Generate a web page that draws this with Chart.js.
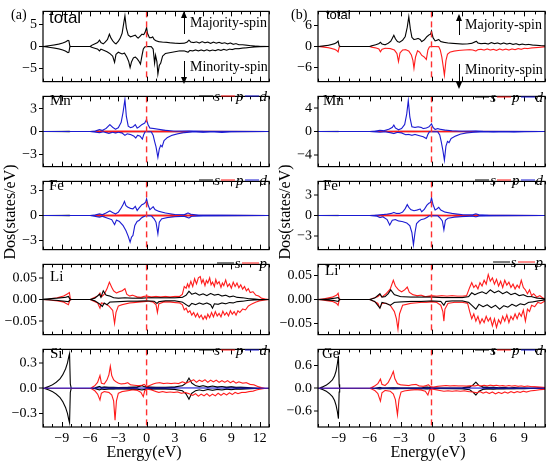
<!DOCTYPE html>
<html><head><meta charset="utf-8">
<script src="https://cdn.jsdelivr.net/npm/chart.js@4/dist/chart.umd.min.js"></script>
<style>
body{margin:0;width:550px;height:462px;background:#fff;position:relative;overflow:hidden;font-family:'Liberation Serif','Times New Roman',serif;color:#000;}
canvas{position:absolute;}
.t{position:absolute;white-space:nowrap;line-height:1;transform:translateY(-50%);}
.sans{font-family:'Liberation Sans',Arial,sans-serif;}
.lg{position:absolute;display:flex;align-items:center;font-style:italic;font-size:15px;line-height:1;transform:translateY(-50%);white-space:nowrap;}
.ln{display:inline-block;width:14px;height:1.5px;margin:0 1px;}
.up,.dn{position:absolute;width:0;border-left:1.3px solid #000;}
.up::before{content:'';position:absolute;left:-4px;top:-2px;border-left:3.3px solid transparent;border-right:3.3px solid transparent;border-bottom:7px solid #000;}
.dn::after{content:'';position:absolute;left:-4px;bottom:-2px;border-left:3.3px solid transparent;border-right:3.3px solid transparent;border-top:7px solid #000;}
.ytl{position:absolute;font-size:16px;white-space:nowrap;line-height:1;transform:translate(-50%,-50%) rotate(-90deg);}
</style></head><body>
<script>
// ---------------- DATA (energy eV, DOS) ----------------
const xTicksA = [-9,-6,-3,0,3,6,9,12];
const xTicksB = [-9,-6,-3,0,3,6,9];
const xLabelsA = ['\u22129','\u22126','\u22123','0','3','6','9','12'];
const xLabelsB = ['\u22129','\u22126','\u22123','0','3','6','9'];

const yTicksTotA = [-5,0,5],  yLabelsTotA = ['\u22125','0','5'];
const yTicksMnA  = [-3,0,3],  yLabelsMnA  = ['\u22123','0','3'];
const yTicksFeA  = [-3,0,3],  yLabelsFeA  = ['\u22123','0','3'];
const yTicksLi   = [-0.05,0,0.05], yLabelsLi = ['\u22120.05','0.00','0.05'];
const yTicksSi   = [-0.3,0,0.3], yLabelsSi = ['\u22120.3','0.0','0.3'];
const yTicksTotB = [-6,0,6],  yLabelsTotB = ['\u22126','0','6'];
const yTicksMnB  = [-4,0,4],  yLabelsMnB  = ['\u22124','0','4'];
const yTicksFeB  = [-3,0,3],  yLabelsFeB  = ['\u22123','0','3'];
const yTicksGe   = [-0.6,0,0.6], yLabelsGe = ['\u22120.6','0.0','0.6'];

// (a) total
const aTotUp = [[-11,0],[-10.8,0.05],[-10.3,0.2],[-9.8,0.35],[-9.3,0.55],[-8.9,0.8],[-8.6,1.05],[-8.35,1.4],[-8.25,1.3],[-8.15,0.1],[-8.05,0],[-6,0],[-5.8,0.3],[-5.5,0.6],[-5.2,0.9],[-5.0,1.45],[-4.85,0.9],[-4.6,0.6],[-4.4,1.0],[-4.15,1.6],[-3.95,2.8],[-3.8,2.0],[-3.6,1.3],[-3.4,0.8],[-3.25,0.6],[-3.0,1.2],[-2.8,1.9],[-2.6,3.0],[-2.45,5.0],[-2.3,7.0],[-2.15,4.2],[-1.95,2.6],[-1.7,2.2],[-1.45,2.4],[-1.2,2.6],[-1.05,2.2],[-0.9,1.9],[-0.7,2.3],[-0.5,2.8],[-0.3,2.7],[-0.15,3.3],[0.0,4.3],[0.1,3.0],[0.3,2.0],[0.5,2.0],[0.65,2.2],[0.8,1.6],[1.0,1.3],[1.3,1.1],[1.7,1.0],[2.1,0.95],[2.5,0.85],[3.0,0.75],[3.5,0.7],[4.0,0.75],[4.3,1.0],[4.5,1.45],[4.7,1.0],[5.0,0.9],[5.3,1.05],[5.6,0.8],[5.9,1.1],[6.2,0.85],[6.5,1.0],[6.8,0.7],[7.1,1.0],[7.4,0.75],[7.7,0.95],[8.0,0.7],[8.3,0.85],[8.6,0.6],[8.9,0.8],[9.2,0.5],[9.5,0.65],[9.8,0.4],[10.2,0.4],[10.6,0.3],[11.0,0.2],[11.5,0.1],[12.0,0.05],[13,0]];
const aTotDn = [[-11,0],[-10.8,-0.05],[-10.3,-0.2],[-9.8,-0.35],[-9.3,-0.55],[-8.9,-0.8],[-8.6,-1.05],[-8.35,-1.4],[-8.25,-1.3],[-8.15,-0.1],[-8.05,0],[-6,0],[-5.8,-0.2],[-5.5,-0.4],[-5.2,-0.6],[-5.0,-1.0],[-4.85,-0.6],[-4.5,-0.9],[-4.2,-1.2],[-3.9,-1.6],[-3.6,-2.2],[-3.4,-3.6],[-3.25,-1.8],[-3.0,-1.3],[-2.8,-1.5],[-2.6,-1.7],[-2.35,-1.5],[-2.1,-2.4],[-1.9,-3.4],[-1.75,-4.8],[-1.6,-3.5],[-1.4,-2.6],[-1.2,-2.4],[-1.0,-2.8],[-0.8,-3.4],[-0.65,-4.0],[-0.5,-2.2],[-0.35,-0.6],[-0.2,-0.1],[0.0,0],[0.5,-0.05],[0.7,-0.6],[0.85,-3.8],[0.95,-2.0],[1.1,-3.5],[1.2,-6.3],[1.35,-4.3],[1.5,-3.8],[1.7,-2.2],[2.0,-1.6],[2.5,-1.4],[3.0,-1.2],[3.5,-1.0],[4.0,-1.0],[4.4,-1.3],[4.6,-0.9],[4.9,-1.0],[5.2,-0.8],[5.5,-1.0],[5.8,-0.8],[6.1,-1.0],[6.4,-0.75],[6.7,-1.0],[7.0,-0.8],[7.3,-0.95],[7.6,-0.7],[7.9,-0.9],[8.2,-0.65],[8.5,-0.85],[8.8,-0.6],[9.1,-0.7],[9.4,-0.5],[9.8,-0.5],[10.2,-0.35],[10.6,-0.3],[11.0,-0.2],[11.5,-0.1],[12.0,-0.04],[13,0]];

// (a) Mn
const aMnSUp = [[-11,0],[-9,0.01],[-8.2,0.02],[-8.1,0],[-6,0],[-5,0.02],[-2.3,0.03],[0,0.02],[4.5,0.02],[13,0]];
const aMnSDn = [[-11,0],[-9,-0.01],[-8.2,-0.02],[-8.1,0],[-6,0],[-5,-0.02],[-2.3,-0.02],[1.2,-0.02],[4.5,-0.02],[13,0]];
const aMnPUp = [[-11,0],[-6,0],[-5,0.02],[-3.9,0.04],[-2.3,0.06],[-1,0.04],[0,0.05],[1,0.02],[4.5,0.02],[13,0]];
const aMnPDn = [[-11,0],[-6,0],[-5,-0.02],[-3.3,-0.04],[-1,-0.03],[0,-0.01],[1.2,-0.05],[4.5,-0.02],[13,0]];
const aMnDUp = [[-11,0],[-6,0],[-5.5,0.05],[-5.0,0.25],[-4.7,0.15],[-4.3,0.4],[-3.9,0.9],[-3.6,0.55],[-3.3,0.3],[-3.0,0.5],[-2.7,1.2],[-2.5,2.5],[-2.3,4.2],[-2.15,2.0],[-1.95,0.7],[-1.7,0.5],[-1.45,0.6],[-1.2,0.9],[-1.0,0.45],[-0.8,0.6],[-0.5,0.9],[-0.2,1.1],[0.0,1.6],[0.15,0.9],[0.35,0.45],[0.7,0.4],[1.2,0.3],[2.0,0.15],[3.0,0.05],[4.5,0.08],[6,0.03],[13,0]];
const aMnDDn = [[-11,0],[-6,0],[-5.0,-0.15],[-4.6,-0.05],[-4.0,-0.25],[-3.6,-0.1],[-3.3,-0.2],[-3.0,-0.1],[-2.6,-0.2],[-2.3,-0.5],[-2.05,-0.3],[-1.7,-0.4],[-1.35,-0.6],[-1.15,-0.85],[-0.95,-0.5],[-0.7,-0.6],[-0.45,-1.0],[-0.3,-0.4],[-0.15,-0.05],[0.5,-0.05],[0.7,-0.5],[0.85,-1.3],[1.0,-2.0],[1.2,-3.4],[1.35,-2.3],[1.5,-1.8],[1.65,-2.0],[1.85,-1.2],[2.2,-0.8],[2.7,-0.5],[3.3,-0.3],[4.0,-0.15],[5.0,-0.05],[6.0,-0.1],[7.0,-0.05],[8.0,-0.12],[9,-0.05],[10,-0.03],[13,0]];

// (a) Fe
const aFeSUp = [[-11,0],[-9,0.01],[-8.2,0.02],[-8.1,0],[-6,0],[-5,0.02],[-2.3,0.03],[0,0.02],[4.5,0.02],[13,0]];
const aFeSDn = [[-11,0],[-9,-0.01],[-8.2,-0.02],[-8.1,0],[-6,0],[-5,-0.02],[-1.7,-0.02],[1.2,-0.02],[4.5,-0.02],[13,0]];
const aFePUp = [[-11,0],[-6,0],[-5,0.03],[-3.9,0.04],[-2.3,0.07],[-1,0.05],[0,0.06],[1,0.03],[4.5,0.03],[13,0]];
const aFePDn = [[-11,0],[-6,0],[-5,-0.03],[-3.3,-0.05],[-1.7,-0.05],[0,-0.01],[1.2,-0.05],[4.5,-0.03],[13,0]];
const aFeDUp = [[-11,0],[-6,0],[-5.5,0.05],[-5.0,0.2],[-4.7,0.1],[-4.3,0.3],[-3.9,0.55],[-3.6,0.35],[-3.3,0.2],[-3.0,0.4],[-2.7,0.9],[-2.5,1.3],[-2.35,1.7],[-2.2,1.2],[-2.0,1.0],[-1.7,0.85],[-1.45,0.8],[-1.2,1.1],[-1.0,0.6],[-0.8,0.9],[-0.5,1.3],[-0.3,1.4],[-0.1,1.6],[0.0,2.0],[0.15,1.3],[0.35,0.7],[0.55,0.9],[0.7,1.05],[0.9,0.7],[1.3,0.5],[2.0,0.3],[3.0,0.12],[4.0,0.1],[4.4,0.3],[4.7,0.15],[5.5,0.05],[8,0.04],[13,0]];
const aFeDDn = [[-11,0],[-6,0],[-5.0,-0.2],[-4.7,-0.1],[-4.2,-0.3],[-3.7,-0.5],[-3.4,-1.1],[-3.2,-0.55],[-2.9,-0.7],[-2.5,-1.2],[-2.2,-1.8],[-1.95,-2.5],[-1.75,-3.2],[-1.6,-2.6],[-1.45,-2.4],[-1.25,-1.2],[-1.0,-0.7],[-0.8,-0.6],[-0.55,-0.3],[-0.4,-0.2],[-0.1,-0.05],[0.5,-0.05],[0.8,-0.4],[1.0,-0.8],[1.2,-2.2],[1.35,-0.8],[1.6,-0.4],[2.2,-0.25],[3.0,-0.15],[4.0,-0.1],[4.5,-0.3],[4.8,-0.1],[6,-0.05],[13,0]];

// (a) Li
const aLiSUp = [[-11,0],[-10.8,0.001],[-9.5,0.003],[-8.6,0.005],[-8.3,0.007],[-8.15,0.001],[-8,0],[-6,0],[-5.5,0.003],[-5.0,0.012],[-4.85,0.005],[-4.6,0.02],[-4.3,0.01],[-3.9,0.008],[-3.5,0.004],[-3.0,0.003],[-2.3,0.004],[-1.5,0.003],[-0.5,0.003],[0.0,0.004],[1.0,0.004],[2.0,0.004],[3.0,0.004],[3.8,0.005],[4.2,0.01],[4.5,0.019],[4.8,0.012],[5.2,0.015],[5.6,0.01],[6.0,0.013],[6.4,0.009],[6.8,0.014],[7.2,0.01],[7.6,0.012],[8.0,0.008],[8.4,0.01],[8.8,0.006],[9.2,0.008],[9.6,0.005],[10.2,0.004],[10.8,0.002],[11.5,0.001],[12,0],[13,0]];
const aLiSDn = [[-11,0],[-9.5,-0.002],[-8.3,-0.005],[-8.15,-0.001],[-8,0],[-6,0],[-5.5,-0.003],[-5.0,-0.01],[-4.7,-0.016],[-4.5,-0.008],[-4.2,-0.012],[-3.9,-0.006],[-3.0,-0.005],[-2.0,-0.004],[-1.0,-0.004],[0.0,-0.003],[0.8,-0.004],[1.1,-0.009],[1.3,-0.005],[2.0,-0.003],[3.0,-0.003],[3.8,-0.006],[4.2,-0.012],[4.5,-0.016],[4.8,-0.009],[5.2,-0.012],[5.6,-0.008],[6.0,-0.011],[6.4,-0.008],[6.8,-0.012],[7.0,-0.02],[7.2,-0.01],[7.6,-0.011],[8.0,-0.008],[8.4,-0.01],[8.8,-0.007],[9.2,-0.008],[9.6,-0.005],[10.2,-0.004],[10.8,-0.002],[11.5,-0.001],[13,0]];
const aLiPUp = [[-11,0],[-10.5,0.001],[-9.5,0.004],[-8.8,0.008],[-8.4,0.013],[-8.2,0.016],[-8.1,0.002],[-8,0],[-6,0],[-5.6,0.004],[-5.2,0.008],[-4.95,0.015],[-4.8,0.006],[-4.5,0.012],[-4.2,0.025],[-3.95,0.04],[-3.7,0.028],[-3.5,0.02],[-3.2,0.015],[-2.9,0.018],[-2.6,0.02],[-2.3,0.025],[-2.1,0.012],[-1.8,0.008],[-1.5,0.01],[-1.0,0.006],[-0.6,0.005],[-0.3,0.007],[0.0,0.008],[0.5,0.006],[1.0,0.007],[1.5,0.006],[2.0,0.007],[2.5,0.006],[3.0,0.007],[3.5,0.007],[3.8,0.012],[4.0,0.03],[4.2,0.026],[4.35,0.036],[4.5,0.028],[4.7,0.042],[4.9,0.03],[5.1,0.048],[5.3,0.036],[5.5,0.05],[5.7,0.053],[5.85,0.038],[6.0,0.046],[6.2,0.032],[6.35,0.044],[6.5,0.038],[6.7,0.05],[6.85,0.034],[7.0,0.04],[7.2,0.03],[7.35,0.046],[7.5,0.036],[7.7,0.041],[7.9,0.028],[8.05,0.038],[8.2,0.032],[8.4,0.045],[8.6,0.03],[8.8,0.036],[9.0,0.026],[9.2,0.04],[9.4,0.03],[9.6,0.038],[9.8,0.027],[10.0,0.034],[10.2,0.024],[10.4,0.03],[10.6,0.02],[10.8,0.025],[11.0,0.016],[11.3,0.018],[11.6,0.01],[11.9,0.008],[12.2,0.003],[12.6,0.001],[13,0]];
const aLiPDn = [[-11,0],[-9.5,-0.003],[-8.8,-0.006],[-8.3,-0.012],[-8.15,-0.002],[-8,0],[-6,0],[-5.6,-0.004],[-5.2,-0.008],[-4.95,-0.02],[-4.8,-0.008],[-4.4,-0.01],[-4.0,-0.015],[-3.6,-0.025],[-3.4,-0.055],[-3.25,-0.03],[-3.0,-0.015],[-2.6,-0.012],[-2.2,-0.01],[-1.8,-0.008],[-1.3,-0.007],[-0.8,-0.006],[-0.3,-0.005],[0.2,-0.004],[0.7,-0.006],[1.0,-0.012],[1.15,-0.03],[1.3,-0.01],[1.8,-0.006],[2.5,-0.006],[3.0,-0.007],[3.5,-0.008],[3.8,-0.012],[4.0,-0.024],[4.2,-0.02],[4.4,-0.03],[4.6,-0.026],[4.8,-0.036],[5.0,-0.03],[5.2,-0.04],[5.4,-0.032],[5.6,-0.042],[5.8,-0.036],[6.0,-0.046],[6.2,-0.038],[6.35,-0.045],[6.5,-0.034],[6.7,-0.042],[6.9,-0.03],[7.1,-0.04],[7.3,-0.028],[7.5,-0.038],[7.7,-0.032],[7.9,-0.04],[8.1,-0.027],[8.3,-0.036],[8.5,-0.03],[8.7,-0.038],[8.9,-0.026],[9.1,-0.034],[9.3,-0.028],[9.5,-0.036],[9.7,-0.026],[9.9,-0.03],[10.2,-0.022],[10.5,-0.024],[10.8,-0.015],[11.2,-0.01],[11.6,-0.006],[12.0,-0.003],[13,0]];

// (a) Si
const aSiSUp = [[-11,0],[-10.8,0.005],[-10.4,0.02],[-10.0,0.04],[-9.6,0.07],[-9.2,0.11],[-8.9,0.16],[-8.6,0.23],[-8.4,0.3],[-8.25,0.38],[-8.18,0.41],[-8.1,0.05],[-8.0,0],[-6,0],[-5.5,0.005],[-5.0,0.02],[-4.8,0.01],[-4.5,0.015],[-4.0,0.01],[-3.5,0.01],[-3.0,0.008],[-2.0,0.01],[-1.0,0.015],[-0.5,0.03],[-0.3,0.02],[0,0.015],[1,0.01],[2,0.01],[3,0.015],[3.8,0.03],[4.2,0.06],[4.5,0.12],[4.8,0.06],[5.2,0.03],[5.6,0.02],[6.0,0.03],[6.5,0.015],[7,0.025],[7.5,0.015],[8,0.02],[8.5,0.012],[9,0.018],[9.5,0.01],[10,0.012],[11,0.006],[12,0.002],[13,0]];
const aSiSDn = [[-11,0],[-10.8,-0.005],[-10.4,-0.02],[-10.0,-0.04],[-9.6,-0.07],[-9.2,-0.11],[-8.9,-0.16],[-8.6,-0.23],[-8.4,-0.3],[-8.25,-0.38],[-8.18,-0.41],[-8.1,-0.05],[-8.0,0],[-6,0],[-5.5,-0.005],[-5.0,-0.02],[-4.8,-0.01],[-4.5,-0.015],[-4.0,-0.01],[-3.5,-0.01],[-3.0,-0.008],[-2.0,-0.01],[-1.0,-0.012],[-0.5,-0.02],[0,-0.01],[1,-0.01],[2,-0.01],[3,-0.015],[3.8,-0.03],[4.2,-0.07],[4.5,-0.13],[4.8,-0.06],[5.2,-0.03],[5.6,-0.02],[6.0,-0.03],[6.5,-0.015],[7,-0.025],[7.5,-0.015],[8,-0.02],[8.5,-0.012],[9,-0.018],[9.5,-0.01],[10,-0.012],[11,-0.006],[12,-0.002],[13,0]];
const aSiPUp = [[-11,0],[-6,0],[-5.8,0.01],[-5.5,0.03],[-5.2,0.07],[-4.95,0.15],[-4.8,0.06],[-4.5,0.05],[-4.2,0.1],[-4.0,0.16],[-3.85,0.26],[-3.7,0.15],[-3.5,0.1],[-3.3,0.08],[-3.0,0.06],[-2.7,0.05],[-2.3,0.055],[-2.0,0.065],[-1.7,0.04],[-1.3,0.035],[-0.9,0.03],[-0.5,0.035],[-0.25,0.045],[0.0,0.02],[0.3,0.03],[0.7,0.05],[1.0,0.06],[1.4,0.065],[1.8,0.055],[2.2,0.06],[2.6,0.055],[3.0,0.06],[3.4,0.055],[3.8,0.075],[4.2,0.06],[4.6,0.08],[5.0,0.1],[5.3,0.07],[5.6,0.095],[5.9,0.08],[6.2,0.1],[6.5,0.07],[6.8,0.095],[7.1,0.075],[7.4,0.095],[7.7,0.07],[8.0,0.09],[8.3,0.07],[8.6,0.09],[8.9,0.065],[9.2,0.085],[9.5,0.06],[9.8,0.075],[10.2,0.06],[10.6,0.065],[11.0,0.045],[11.4,0.04],[11.8,0.02],[12.2,0.008],[12.6,0.002],[13,0]];
const aSiPDn = [[-11,0],[-6,0],[-5.8,-0.01],[-5.5,-0.03],[-5.2,-0.07],[-4.95,-0.14],[-4.8,-0.06],[-4.5,-0.04],[-4.0,-0.05],[-3.7,-0.08],[-3.5,-0.15],[-3.35,-0.38],[-3.2,-0.15],[-3.0,-0.06],[-2.6,-0.04],[-2.0,-0.03],[-1.5,-0.02],[-1.0,-0.025],[-0.6,-0.05],[-0.35,-0.1],[-0.2,-0.03],[0.0,-0.01],[0.5,-0.02],[1.0,-0.04],[1.3,-0.05],[1.7,-0.04],[2.1,-0.05],[2.5,-0.045],[2.9,-0.05],[3.3,-0.045],[3.7,-0.06],[4.1,-0.05],[4.5,-0.065],[4.9,-0.085],[5.2,-0.065],[5.5,-0.095],[5.8,-0.07],[6.1,-0.09],[6.4,-0.065],[6.7,-0.095],[7.0,-0.07],[7.3,-0.09],[7.6,-0.06],[7.9,-0.085],[8.2,-0.06],[8.5,-0.08],[8.8,-0.055],[9.1,-0.075],[9.4,-0.05],[9.7,-0.065],[10.1,-0.05],[10.5,-0.05],[10.9,-0.04],[11.3,-0.035],[11.7,-0.02],[12.1,-0.01],[12.5,-0.003],[13,0]];
const aSiD = [[-11,0],[-5,0.002],[0,0.002],[4.5,0.003],[13,0]];

// (b) total
const bTotUp = [[-11,0],[-10.8,0.05],[-10.4,0.2],[-10.0,0.35],[-9.7,0.55],[-9.4,0.8],[-9.2,1.1],[-9.05,1.55],[-8.95,0.2],[-8.85,0],[-6,0],[-5.8,0.2],[-5.4,0.5],[-5.1,0.8],[-4.95,1.2],[-4.8,0.7],[-4.5,0.5],[-4.2,0.9],[-3.95,1.5],[-3.8,2.3],[-3.65,3.2],[-3.5,2.2],[-3.3,1.4],[-3.1,1.2],[-2.8,1.8],[-2.55,2.8],[-2.35,5.5],[-2.2,8.5],[-2.05,5.0],[-1.9,2.6],[-1.7,2.0],[-1.5,2.1],[-1.3,2.3],[-1.1,2.0],[-0.95,1.4],[-0.7,1.9],[-0.45,2.8],[-0.25,3.3],[-0.1,3.5],[0.0,4.4],[0.15,2.5],[0.35,1.6],[0.55,1.8],[0.7,2.0],[0.9,1.4],[1.2,1.2],[1.6,1.0],[2.0,0.9],[2.5,0.8],[3.0,0.7],[3.5,0.75],[3.9,0.9],[4.2,1.3],[4.35,1.5],[4.5,1.0],[4.8,0.8],[5.2,0.9],[5.5,0.7],[5.8,1.1],[6.1,0.8],[6.4,1.0],[6.7,0.7],[7.0,1.0],[7.3,0.7],[7.6,0.9],[7.9,0.6],[8.2,0.8],[8.5,0.5],[8.8,0.7],[9.1,0.5],[9.4,0.6],[9.8,0.4],[10.2,0.35],[10.6,0.25],[11,0.2]];
const bTotDn = [[-11,0],[-10.8,-0.05],[-10.4,-0.2],[-10.0,-0.35],[-9.7,-0.55],[-9.4,-0.8],[-9.2,-1.1],[-9.05,-1.55],[-8.95,-0.2],[-8.85,0],[-6,0],[-5.8,-0.2],[-5.4,-0.4],[-5.1,-0.7],[-4.95,-1.5],[-4.8,-0.8],[-4.5,-0.5],[-4.0,-0.6],[-3.6,-1.0],[-3.35,-2.0],[-3.2,-4.3],[-3.05,-1.8],[-2.8,-1.0],[-2.5,-0.9],[-2.2,-1.3],[-1.95,-2.4],[-1.8,-4.0],[-1.7,-6.2],[-1.55,-3.0],[-1.35,-1.2],[-1.15,-1.6],[-0.95,-2.5],[-0.7,-3.0],[-0.5,-3.7],[-0.35,-1.0],[-0.2,-0.1],[0.0,0],[0.7,-0.05],[0.85,-1.0],[1.0,-3.0],[1.15,-6.0],[1.25,-8.2],[1.4,-4.0],[1.55,-2.2],[1.8,-1.6],[2.2,-1.3],[2.7,-1.1],[3.2,-1.0],[3.7,-0.9],[4.0,-1.0],[4.3,-1.3],[4.5,-0.9],[4.8,-0.8],[5.1,-1.0],[5.4,-0.7],[5.7,-1.0],[6.0,-0.8],[6.3,-1.1],[6.6,-0.7],[6.9,-1.0],[7.2,-0.75],[7.5,-1.0],[7.8,-0.7],[8.1,-0.9],[8.4,-0.6],[8.7,-0.8],[9.0,-0.5],[9.3,-0.6],[9.7,-0.4],[10.2,-0.3],[10.6,-0.2],[11,-0.1]];

// (b) Mn
const bMnSUp = [[-11,0],[-9.05,0.02],[-8.95,0],[-6,0],[-5,0.02],[-2.2,0.03],[0,0.02],[4.3,0.02],[11,0]];
const bMnSDn = [[-11,0],[-9.05,-0.02],[-8.95,0],[-6,0],[-5,-0.02],[-1.7,-0.02],[1.2,-0.02],[4.3,-0.02],[11,0]];
const bMnPUp = [[-11,0],[-6,0],[-5,0.02],[-3.7,0.04],[-2.2,0.06],[-1,0.04],[0,0.05],[1,0.02],[4.3,0.02],[11,0]];
const bMnPDn = [[-11,0],[-6,0],[-5,-0.02],[-3.2,-0.04],[-1.7,-0.05],[0,-0.01],[1.2,-0.05],[4.3,-0.02],[11,0]];
const bMnDUp = [[-11,0],[-6,0],[-5.5,0.05],[-5.0,0.2],[-4.6,0.15],[-4.1,0.4],[-3.8,0.7],[-3.65,1.1],[-3.5,0.6],[-3.2,0.3],[-2.9,0.5],[-2.6,1.2],[-2.4,3.0],[-2.25,5.3],[-2.1,2.5],[-1.9,0.8],[-1.6,0.7],[-1.3,0.8],[-1.0,0.7],[-0.8,0.5],[-0.5,0.6],[-0.25,0.8],[0.0,1.3],[0.15,0.7],[0.35,0.35],[0.6,0.5],[0.8,0.4],[1.3,0.25],[2.0,0.12],[3.0,0.05],[4.3,0.1],[5,0.04],[11,0]];
const bMnDDn = [[-11,0],[-6,0],[-5.0,-0.12],[-4.5,-0.05],[-4.0,-0.2],[-3.65,-0.35],[-3.3,-0.15],[-2.9,-0.25],[-2.5,-0.55],[-2.2,-0.5],[-1.9,-0.65],[-1.6,-0.5],[-1.2,-0.7],[-0.8,-0.9],[-0.5,-1.2],[-0.35,-0.5],[-0.2,-0.05],[0.6,-0.05],[0.8,-0.6],[0.95,-1.8],[1.1,-3.2],[1.25,-4.9],[1.4,-2.5],[1.55,-1.7],[1.7,-1.9],[1.9,-1.2],[2.3,-0.8],[2.8,-0.45],[3.4,-0.25],[4.0,-0.15],[5.0,-0.05],[6.0,-0.1],[7,-0.05],[8,-0.1],[9,-0.04],[11,0]];

// (b) Fe
const bFeSUp = [[-11,0],[-9.05,0.02],[-8.95,0],[-6,0],[-5,0.02],[-2.2,0.03],[0,0.02],[4.3,0.02],[11,0]];
const bFeSDn = [[-11,0],[-9.05,-0.02],[-8.95,0],[-6,0],[-5,-0.02],[-1.7,-0.02],[1.2,-0.02],[4.3,-0.02],[11,0]];
const bFePUp = [[-11,0],[-6,0],[-5,0.03],[-3.7,0.04],[-2.2,0.07],[-1,0.05],[0,0.06],[1,0.03],[4.3,0.03],[11,0]];
const bFePDn = [[-11,0],[-6,0],[-5,-0.03],[-3.2,-0.05],[-1.7,-0.05],[0,-0.01],[1.2,-0.05],[4.3,-0.03],[11,0]];
const bFeDUp = [[-11,0],[-6,0],[-5.5,0.03],[-5.0,0.1],[-4.6,0.15],[-4.3,0.2],[-3.9,0.3],[-3.65,0.45],[-3.4,0.3],[-3.1,0.3],[-2.8,0.5],[-2.55,1.0],[-2.35,1.6],[-2.2,1.2],[-2.0,0.85],[-1.7,0.7],[-1.4,0.8],[-1.1,0.95],[-0.95,0.55],[-0.7,0.9],[-0.45,1.5],[-0.25,1.8],[-0.1,1.9],[0.0,2.6],[0.15,1.6],[0.35,0.8],[0.55,1.0],[0.7,1.2],[0.9,0.8],[1.3,0.5],[2.0,0.3],[3.0,0.12],[4.0,0.1],[4.3,0.25],[4.6,0.1],[5.5,0.05],[11,0]];
const bFeDDn = [[-11,0],[-6,0],[-5.3,-0.1],[-5.0,-0.3],[-4.7,-0.2],[-4.3,-0.6],[-4.05,-1.4],[-3.8,-0.7],[-3.5,-0.6],[-3.2,-0.8],[-2.8,-0.9],[-2.4,-1.1],[-2.1,-1.5],[-1.9,-2.5],[-1.75,-4.3],[-1.6,-2.5],[-1.45,-1.2],[-1.2,-0.8],[-1.0,-0.6],[-0.7,-0.5],[-0.45,-0.3],[-0.2,-0.05],[0.6,-0.05],[0.85,-0.4],[1.05,-0.8],[1.2,-2.1],[1.35,-0.7],[1.6,-0.4],[2.2,-0.25],[3.0,-0.15],[4.0,-0.1],[4.3,-0.2],[4.6,-0.08],[6,-0.04],[11,0]];

// (b) Li
const bLiSUp = [[-11,0],[-10,0.001],[-9.3,0.003],[-9.05,0.004],[-8.95,0.001],[-8.85,0],[-6,0],[-5.5,0.003],[-5.0,0.012],[-4.8,0.005],[-4.5,0.006],[-4.2,0.012],[-3.95,0.02],[-3.6,0.01],[-3.0,0.006],[-2.0,0.005],[-1.0,0.005],[0.0,0.005],[1.0,0.004],[2.0,0.004],[3.0,0.004],[3.6,0.006],[3.9,0.014],[4.2,0.01],[4.5,0.013],[4.9,0.016],[5.3,0.012],[5.7,0.02],[6.1,0.014],[6.5,0.018],[6.9,0.012],[7.3,0.016],[7.7,0.01],[8.1,0.013],[8.5,0.008],[8.9,0.01],[9.3,0.006],[9.7,0.006],[10.2,0.003],[10.7,0.002],[11,0.001]];
const bLiSDn = [[-11,0],[-9.5,-0.002],[-9.05,-0.004],[-8.95,-0.001],[-8.85,0],[-6,0],[-5.5,-0.004],[-5.0,-0.018],[-4.8,-0.006],[-4.4,-0.008],[-4.0,-0.012],[-3.6,-0.006],[-3.0,-0.005],[-2.0,-0.004],[-1.0,-0.004],[0.0,-0.003],[0.9,-0.004],[1.2,-0.012],[1.4,-0.004],[2.0,-0.003],[3.0,-0.003],[3.6,-0.006],[3.9,-0.012],[4.3,-0.02],[4.6,-0.01],[5.0,-0.015],[5.4,-0.011],[5.8,-0.017],[6.2,-0.012],[6.6,-0.02],[7.0,-0.013],[7.4,-0.016],[7.8,-0.01],[8.2,-0.014],[8.6,-0.009],[9.0,-0.011],[9.4,-0.006],[9.8,-0.005],[10.3,-0.003],[11,-0.001]];
const bLiPUp = [[-11,0],[-10.3,0.002],[-9.6,0.005],[-9.2,0.009],[-9.05,0.013],[-8.95,0.002],[-8.85,0],[-6,0],[-5.6,0.003],[-5.2,0.006],[-5.0,0.01],[-4.8,0.005],[-4.4,0.012],[-4.0,0.022],[-3.7,0.04],[-3.5,0.028],[-3.2,0.02],[-2.9,0.016],[-2.6,0.02],[-2.35,0.026],[-2.15,0.015],[-1.8,0.01],[-1.4,0.008],[-1.0,0.009],[-0.6,0.006],[0.0,0.008],[0.5,0.007],[1.0,0.008],[1.5,0.007],[2.0,0.008],[2.5,0.007],[3.0,0.007],[3.4,0.008],[3.7,0.025],[3.9,0.035],[4.1,0.025],[4.3,0.03],[4.5,0.022],[4.7,0.035],[4.9,0.028],[5.1,0.04],[5.3,0.032],[5.5,0.052],[5.7,0.038],[5.9,0.045],[6.1,0.032],[6.3,0.042],[6.5,0.028],[6.7,0.038],[6.9,0.025],[7.1,0.04],[7.3,0.03],[7.5,0.036],[7.7,0.025],[7.9,0.032],[8.1,0.022],[8.3,0.03],[8.5,0.024],[8.7,0.04],[8.9,0.025],[9.1,0.02],[9.3,0.012],[9.5,0.02],[9.7,0.008],[9.9,0.012],[10.2,0.005],[10.5,0.008],[10.8,0.003],[11,0.002]];
const bLiPDn = [[-11,0],[-10.3,-0.002],[-9.6,-0.004],[-9.2,-0.008],[-9.05,-0.012],[-8.95,-0.002],[-8.85,0],[-6,0],[-5.6,-0.004],[-5.2,-0.008],[-5.0,-0.018],[-4.8,-0.008],[-4.4,-0.008],[-4.0,-0.012],[-3.6,-0.025],[-3.4,-0.04],[-3.25,-0.062],[-3.1,-0.03],[-2.8,-0.012],[-2.4,-0.01],[-2.0,-0.008],[-1.5,-0.007],[-1.0,-0.006],[-0.5,-0.006],[0.0,-0.005],[0.5,-0.006],[0.9,-0.012],[1.1,-0.025],[1.2,-0.045],[1.3,-0.02],[1.6,-0.008],[2.2,-0.006],[3.0,-0.006],[3.5,-0.008],[3.7,-0.025],[3.9,-0.04],[4.1,-0.03],[4.3,-0.045],[4.5,-0.035],[4.7,-0.05],[4.9,-0.04],[5.1,-0.048],[5.3,-0.035],[5.5,-0.045],[5.7,-0.038],[5.9,-0.055],[6.1,-0.04],[6.3,-0.058],[6.5,-0.042],[6.7,-0.05],[6.9,-0.035],[7.1,-0.045],[7.3,-0.032],[7.5,-0.048],[7.7,-0.035],[7.9,-0.042],[8.1,-0.03],[8.3,-0.04],[8.5,-0.028],[8.7,-0.035],[8.9,-0.022],[9.1,-0.045],[9.3,-0.02],[9.5,-0.025],[9.7,-0.012],[10.0,-0.015],[10.3,-0.006],[10.6,-0.008],[11,-0.003]];

// (b) Ge
const bGeSUp = [[-11,0],[-10.8,0.01],[-10.5,0.04],[-10.2,0.08],[-9.9,0.14],[-9.6,0.22],[-9.4,0.32],[-9.25,0.45],[-9.12,0.65],[-9.02,0.85],[-8.95,0.1],[-8.9,0],[-6,0],[-5.5,0.005],[-5.0,0.02],[-4.8,0.01],[-4.4,0.01],[-3.7,0.015],[-3.0,0.01],[-2.0,0.01],[-1.0,0.012],[-0.4,0.03],[0,0.015],[1,0.01],[2,0.012],[3,0.015],[3.7,0.03],[4.0,0.08],[4.3,0.16],[4.6,0.07],[5.0,0.03],[5.5,0.02],[6,0.025],[6.5,0.015],[7,0.02],[7.5,0.012],[8,0.018],[8.5,0.01],[9,0.012],[9.5,0.008],[10,0.006],[11,0.002]];
const bGeSDn = [[-11,0],[-10.8,-0.01],[-10.5,-0.04],[-10.2,-0.08],[-9.9,-0.14],[-9.6,-0.22],[-9.4,-0.32],[-9.25,-0.45],[-9.12,-0.62],[-9.02,-0.8],[-8.95,-0.1],[-8.9,0],[-6,0],[-5.5,-0.005],[-5.0,-0.02],[-4.8,-0.01],[-4.4,-0.01],[-3.7,-0.015],[-3.0,-0.01],[-2.0,-0.01],[-1.0,-0.012],[-0.4,-0.02],[0,-0.01],[1,-0.01],[2,-0.012],[3,-0.015],[3.7,-0.04],[4.0,-0.1],[4.3,-0.18],[4.6,-0.08],[5.0,-0.03],[5.5,-0.02],[6,-0.025],[6.5,-0.015],[7,-0.02],[7.5,-0.012],[8,-0.018],[8.5,-0.01],[9,-0.012],[9.5,-0.008],[10,-0.006],[11,-0.002]];
const bGePUp = [[-11,0],[-6,0],[-5.8,0.02],[-5.5,0.06],[-5.2,0.12],[-4.95,0.24],[-4.8,0.1],[-4.5,0.07],[-4.2,0.15],[-3.95,0.28],[-3.7,0.44],[-3.55,0.25],[-3.3,0.12],[-3.0,0.09],[-2.6,0.08],[-2.2,0.07],[-1.9,0.09],[-1.5,0.1],[-1.2,0.06],[-0.8,0.05],[-0.5,0.07],[-0.3,0.09],[-0.1,0.04],[0.2,0.03],[0.6,0.05],[1.0,0.06],[1.4,0.07],[1.8,0.06],[2.2,0.065],[2.6,0.06],[3.0,0.06],[3.4,0.055],[3.8,0.065],[4.2,0.06],[4.5,0.08],[4.8,0.06],[5.1,0.075],[5.4,0.06],[5.7,0.08],[6.0,0.065],[6.3,0.075],[6.6,0.06],[6.9,0.07],[7.2,0.055],[7.5,0.07],[7.8,0.055],[8.1,0.065],[8.4,0.05],[8.7,0.06],[9.0,0.045],[9.3,0.055],[9.6,0.045],[10,0.04],[10.5,0.03],[11,0.02]];
const bGePDn = [[-11,0],[-6,0],[-5.8,-0.02],[-5.5,-0.06],[-5.2,-0.14],[-4.95,-0.34],[-4.8,-0.12],[-4.5,-0.06],[-4.0,-0.08],[-3.7,-0.15],[-3.5,-0.3],[-3.3,-0.7],[-3.15,-0.3],[-2.95,-0.1],[-2.6,-0.07],[-2.0,-0.05],[-1.5,-0.04],[-1.0,-0.05],[-0.6,-0.08],[-0.35,-0.18],[-0.2,-0.05],[0.0,-0.02],[0.4,-0.04],[0.8,-0.06],[1.2,-0.08],[1.6,-0.07],[2.0,-0.08],[2.4,-0.07],[2.8,-0.08],[3.2,-0.07],[3.6,-0.09],[4.0,-0.1],[4.4,-0.12],[4.7,-0.09],[5.0,-0.13],[5.3,-0.1],[5.6,-0.14],[5.9,-0.1],[6.2,-0.15],[6.5,-0.11],[6.8,-0.14],[7.1,-0.1],[7.4,-0.13],[7.7,-0.09],[8.0,-0.12],[8.3,-0.09],[8.6,-0.11],[8.9,-0.08],[9.2,-0.1],[9.6,-0.07],[10,-0.06],[10.5,-0.04],[11,-0.03]];
const bGeD = [[-11,0],[-5,0.002],[0,0.002],[4.3,0.003],[11,0]];

// ---------------- LAYOUT / DRAWING ----------------
const BLACK='#000000', RED='#ff1a1a', BLUE='#1a1ad2';
const panelTops=[4,89,174,257,342], panelBots=[89,174,257,342,427];

const framePlugin={id:'frame',afterDatasetsDraw(chart,args,opts){
  const {ctx,chartArea:a,scales:{x}}=chart;
  ctx.save();
  const x0=x.getPixelForValue(0);
  ctx.strokeStyle='#ff3030';ctx.lineWidth=1.4;ctx.setLineDash([6,4]);
  ctx.beginPath();ctx.moveTo(x0,a.top);ctx.lineTo(x0,a.bottom);ctx.stroke();
  ctx.setLineDash([]);
  ctx.strokeStyle='#000';ctx.lineWidth=1;
  for(let v=Math.ceil(x.min);v<=x.max;v++){
    const px=Math.round(x.getPixelForValue(v))+0.5;
    const L=opts.majors.includes(v)?5:3;
    ctx.beginPath();ctx.moveTo(px,a.bottom);ctx.lineTo(px,a.bottom-L);
    ctx.moveTo(px,a.top);ctx.lineTo(px,a.top+L);ctx.stroke();
  }
  ctx.lineWidth=1.2;
  ctx.strokeRect(a.left,a.top,a.right-a.left,a.bottom-a.top);
  ctx.restore();
}};

function panel(p){
  const c=document.createElement('canvas');
  const left=p.col===0?0:275, W=275;
  const top=panelTops[p.row]-3;
  const bottom=p.row===4;
  const H=bottom?462-top:(panelBots[p.row]-panelTops[p.row])+6;
  c.width=W;c.height=H;c.style.left=left+'px';c.style.top=top+'px';c.style.width=W+'px';c.style.height=H+'px';
  document.body.appendChild(c);
  const font={family:"'Liberation Serif','Times New Roman',serif",size:14};
  const xT=p.col===0?xTicksA:xTicksB, xL=p.col===0?xLabelsA:xLabelsB;
  new Chart(c,{
    type:'line',
    data:{datasets:p.series.map(s=>({data:s.pts.map(q=>({x:q[0],y:q[1]})),borderColor:s.color,borderWidth:1.1,pointRadius:0,tension:0,fill:false,order:s.order}))},
    options:{
      responsive:false,maintainAspectRatio:false,animation:false,events:[],devicePixelRatio:2,
      layout:{padding:{top:3,bottom:bottom?0:3,left:0,right:p.col===0?6:5}},
      plugins:{legend:{display:false},tooltip:{enabled:false},frame:{majors:xT}},
      scales:{
        x:{type:'linear',min:-11,max:p.col===0?13:11,display:bottom,
           afterBuildTicks:s=>{s.ticks=xT.map(v=>({value:v}));},
           afterFit:s=>{ if(bottom) s.height=35; else s.height=0; },
           grid:{display:false,drawTicks:false},border:{display:false},
           ticks:{font,color:'#000',padding:3,maxRotation:0,autoSkip:false,callback:(v,i)=>xL[i]}},
        y:{type:'linear',min:-p.ymax,max:p.ymax,
           afterBuildTicks:s=>{s.ticks=p.yTicks.map(v=>({value:v}));},
           afterFit:s=>{s.width=43;},
           grid:{drawOnChartArea:false,drawTicks:true,tickLength:4,color:'#000',lineWidth:1},border:{display:false},
           ticks:{font,color:'#000',padding:2,autoSkip:false,callback:(v,i)=>p.yLabels[i]}}
      }
    },
    plugins:[framePlugin]
  });
}

const S=(pts,color,order)=>({pts,color,order});
panel({col:0,row:0,ymax:8,yTicks:yTicksTotA,yLabels:yLabelsTotA,series:[S(aTotUp,BLACK,1),S(aTotDn,BLACK,1)]});
panel({col:0,row:1,ymax:4.6,yTicks:yTicksMnA,yLabels:yLabelsMnA,series:[S(aMnSUp,BLACK,3),S(aMnSDn,BLACK,3),S(aMnPUp,RED,2),S(aMnPDn,RED,2),S(aMnDUp,BLUE,1),S(aMnDDn,BLUE,1)]});
panel({col:0,row:2,ymax:4.1,yTicks:yTicksFeA,yLabels:yLabelsFeA,series:[S(aFeSUp,BLACK,3),S(aFeSDn,BLACK,3),S(aFePUp,RED,2),S(aFePDn,RED,2),S(aFeDUp,BLUE,1),S(aFeDDn,BLUE,1)]});
panel({col:0,row:3,ymax:0.081,yTicks:yTicksLi,yLabels:yLabelsLi,series:[S(aLiPUp,RED,2),S(aLiPDn,RED,2),S(aLiSUp,BLACK,1),S(aLiSDn,BLACK,1)]});
panel({col:0,row:4,ymax:0.46,yTicks:yTicksSi,yLabels:yLabelsSi,series:[S(aSiSUp,BLACK,3),S(aSiSDn,BLACK,3),S(aSiPUp,RED,2),S(aSiPDn,RED,2),S(aSiD,BLUE,1)]});

panel({col:1,row:0,ymax:10,yTicks:yTicksTotB,yLabels:yLabelsTotB,series:[S(bTotUp,BLACK,1),S(bTotDn,RED,1)]});
panel({col:1,row:1,ymax:6,yTicks:yTicksMnB,yLabels:yLabelsMnB,series:[S(bMnSUp,BLACK,3),S(bMnSDn,BLACK,3),S(bMnPUp,RED,2),S(bMnPDn,RED,2),S(bMnDUp,BLUE,1),S(bMnDDn,BLUE,1)]});
panel({col:1,row:2,ymax:5,yTicks:yTicksFeB,yLabels:yLabelsFeB,series:[S(bFeSUp,BLACK,3),S(bFeSDn,BLACK,3),S(bFePUp,RED,2),S(bFePDn,RED,2),S(bFeDUp,BLUE,1),S(bFeDDn,BLUE,1)]});
panel({col:1,row:3,ymax:0.073,yTicks:yTicksLi,yLabels:yLabelsLi,series:[S(bLiPUp,RED,2),S(bLiPDn,RED,2),S(bLiSUp,BLACK,1),S(bLiSDn,BLACK,1)]});
panel({col:1,row:4,ymax:1.02,yTicks:yTicksGe,yLabels:yLabelsGe,series:[S(bGeSUp,BLACK,3),S(bGeSDn,BLACK,3),S(bGePUp,RED,2),S(bGePDn,RED,2),S(bGeD,BLUE,1)]});
</script>

<!-- annotations -->
<div class="t" style="left:11px;top:15px;font-size:14px;">(a)</div>
<div class="t sans" style="left:49px;top:17px;font-size:17px;">total</div>
<div class="up" style="left:184px;top:13px;height:21px;"></div>
<div class="t" style="left:190px;top:23px;font-size:14px;">Majority-spin</div>
<div class="dn" style="left:184px;top:61px;height:21px;"></div>
<div class="t" style="left:190px;top:67px;font-size:14px;">Minority-spin</div>

<div class="t" style="left:291px;top:15px;font-size:14px;">(b)</div>
<div class="t sans" style="left:326px;top:14px;font-size:13px;">total</div>
<div class="up" style="left:459px;top:16px;height:19px;"></div>
<div class="t" style="left:465px;top:25px;font-size:14px;">Majority-spin</div>
<div class="dn" style="left:459px;top:64px;height:23px;"></div>
<div class="t" style="left:465px;top:70px;font-size:14px;">Minority-spin</div>

<div class="t" style="left:50px;top:100px;font-size:15px;">Mn</div>
<div class="t" style="left:49px;top:185px;font-size:15px;">Fe</div>
<div class="t" style="left:50px;top:276px;font-size:15px;">Li</div>
<div class="t" style="left:50px;top:353px;font-size:15px;">Si</div>
<div class="t" style="left:323px;top:100px;font-size:15px;">Mn</div>
<div class="t" style="left:323px;top:185px;font-size:15px;">Fe</div>
<div class="t" style="left:325px;top:270px;font-size:15px;">Li</div>
<div class="t" style="left:322px;top:353px;font-size:15px;">Ge</div>

<div class="lg" style="right:283px;top:96px;"><i class="ln" style="background:#000"></i>s<i class="ln" style="background:#ff1a1a"></i>p<i class="ln" style="background:#1a1ad2"></i>d</div>
<div class="lg" style="right:283px;top:180px;"><i class="ln" style="background:#000"></i>s<i class="ln" style="background:#ff1a1a"></i>p<i class="ln" style="background:#1a1ad2"></i>d</div>
<div class="lg" style="right:283px;top:263px;"><i class="ln" style="background:#000;width:17px"></i>s<i class="ln" style="background:#ff1a1a;width:17px"></i>p</div>
<div class="lg" style="right:283px;top:350px;"><i class="ln" style="background:#000"></i>s<i class="ln" style="background:#ff1a1a"></i>p<i class="ln" style="background:#1a1ad2"></i>d</div>
<div class="lg" style="right:7px;top:97px;"><i class="ln" style="background:#000"></i>s<i class="ln" style="background:#ff1a1a"></i>p<i class="ln" style="background:#1a1ad2"></i>d</div>
<div class="lg" style="right:7px;top:180px;"><i class="ln" style="background:#000"></i>s<i class="ln" style="background:#ff1a1a"></i>p<i class="ln" style="background:#1a1ad2"></i>d</div>
<div class="lg" style="right:7px;top:262px;"><i class="ln" style="background:#000;width:17px"></i>s<i class="ln" style="background:#ff1a1a;width:17px"></i>p</div>
<div class="lg" style="right:7px;top:350px;"><i class="ln" style="background:#000"></i>s<i class="ln" style="background:#ff1a1a"></i>p<i class="ln" style="background:#1a1ad2"></i>d</div>

<div class="ytl" style="left:10px;top:212px;">Dos(states/eV)</div>
<div class="ytl" style="left:285px;top:212px;">Dos(states/eV)</div>
<div class="t" style="left:144px;top:452px;font-size:16px;transform:translate(-50%,-50%);">Energy(eV)</div>
<div class="t" style="left:428px;top:452px;font-size:16px;transform:translate(-50%,-50%);">Energy(eV)</div>
</body></html>
